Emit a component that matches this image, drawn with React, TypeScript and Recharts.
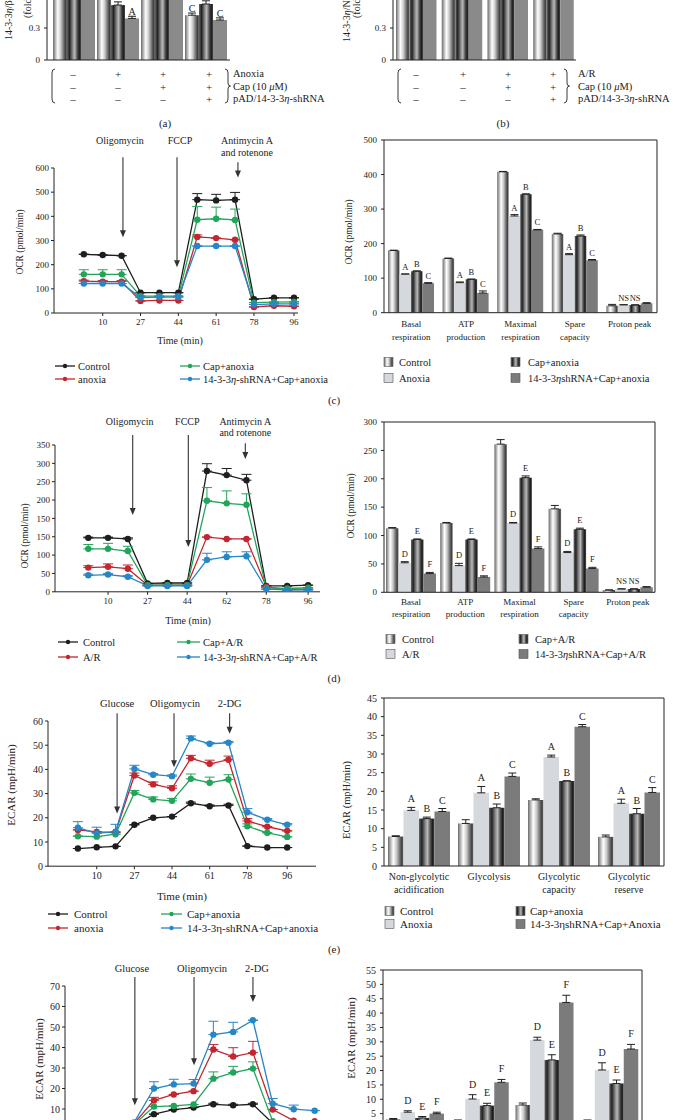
import React from 'react';
import { LineChart, Line, BarChart, Bar, XAxis, YAxis, ErrorBar, ReferenceLine, LabelList } from 'recharts';

const FONT = '"Liberation Serif", "DejaVu Serif", serif';
const INK = '#222222';
const ARROW = '#333333';

// ================= DATA =================
const times = [1.5, 10, 18.5, 27, 35.5, 44, 52.5, 61, 69.5, 78, 87, 96];
const timeTicks = [10, 27, 44, 61, 78, 96];
const timeTickLabelsC = ['10', '27', '44', '61', '78', '96'];
const timeTickLabelsD = ['10', '27', '44', '62', '78', '96'];

// (a) (b) blot quantification
const blotGroups = ['g1', 'g2', 'g3', 'g4'];
const blotTicks = [0, 0.3];
const aBand1 = [1.0, 1.0, 0.95, 0.42];
const aBand2 = [1.0, 0.515, 0.93, 0.525];
const aBand3 = [1.0, 0.39, 0.9, 0.375];
const aErr1 = [0, 0, 0, 0.02];
const aErr2 = [0, 0.03, 0, 0.03];
const aErr3 = [0, 0.02, 0, 0.02];
const aLet1 = ['', '', '', 'C'];
const aLet2 = ['', '', '', ''];
const aLet3 = ['', 'A', '', 'C'];
const bBand1 = [1.0, 0.98, 1.0, 0.97];
const bBand2 = [1.0, 0.96, 0.99, 0.95];
const bBand3 = [1.0, 0.94, 0.98, 0.93];
const bErr = [0, 0, 0, 0];
const bLet = ['', '', '', ''];
const signRows = [
  ['–', '+', '+', '+'],
  ['–', '–', '+', '+'],
  ['–', '–', '–', '+'],
];
const aRowLabels = ['Anoxia', 'Cap (10 μM)', 'pAD/14-3-3η-shRNA'];
const bRowLabels = ['A/R', 'Cap (10 μM)', 'pAD/14-3-3η-shRNA'];

// (c) OCR time course, anoxia
const cTicksY = [0, 100, 200, 300, 400, 500, 600];
const cCtrl = [243, 240, 237, 84, 84, 84, 469, 466, 469, 57, 63, 63];
const cCtrlErr = [0, 0, 0, 0, 0, 0, 25, 25, 30, 0, 0, 0];
const cAnox = [132, 130, 130, 50, 52, 52, 315, 310, 303, 25, 30, 28];
const cAnoxErr = [4, 4, 4, 0, 0, 0, 8, 0, 0, 0, 0, 0];
const cCap = [160, 160, 160, 70, 70, 70, 386, 390, 385, 43, 45, 46];
const cCapErr = [19, 19, 19, 0, 0, 0, 55, 48, 45, 0, 0, 0];
const cSh = [122, 122, 122, 64, 66, 66, 277, 277, 277, 35, 38, 38];
const cShErr = [0, 0, 0, 0, 0, 0, 0, 0, 0, 0, 0, 0];

// (c) OCR parameters
const ocrCats = ['Basal\nrespiration', 'ATP\nproduction', 'Maximal\nrespiration', 'Spare\ncapacity', 'Proton peak'];
const cBarTicks = [0, 100, 200, 300, 400, 500];
const cbCtrl = [180, 157, 408, 228, 20];
const cbAnox = [112, 87, 280, 168, 23];
const cbCap = [120, 97, 343, 222, 22];
const cbSh = [85, 57, 240, 152, 27];
const cbCtrlErr = [1, 1, 1, 2, 4];
const cbAnoxErr = [0, 2, 4, 3, 0];
const cbCapErr = [1, 0, 1, 3, 1];
const cbShErr = [2, 6, 1, 2, 2];
const cbLetAnox = ['A', 'A', 'A', 'A', 'NS'];
const cbLetCap = ['B', 'B', 'B', 'B', 'NS'];
const cbLetSh = ['C', 'C', 'C', 'C', ''];

// (d) OCR time course, A/R
const dTicksY = [0, 50, 100, 150, 200, 250, 300, 350, 400];
const dTickLabelsY = ['0', '50', '100', '150', '150', '200', '250', '300', '350'];
const dCtrl = [147, 147, 144, 23, 24, 24, 329, 318, 304, 16, 16, 18];
const dCtrlErr = [2, 2, 3, 0, 0, 0, 20, 18, 16, 0, 0, 0];
const dAR = [66, 68, 63, 18, 18, 18, 149, 144, 144, 14, 5, 7];
const dARErr = [5, 8, 10, 0, 0, 0, 0, 0, 0, 0, 0, 0];
const dCap = [117, 117, 111, 18, 18, 18, 248, 241, 237, 11, 9, 11];
const dCapErr = [12, 15, 13, 0, 0, 0, 36, 34, 30, 0, 0, 0];
const dSh = [45, 47, 41, 16, 16, 16, 87, 95, 97, 7, 5, 5];
const dShErr = [3, 3, 3, 0, 0, 0, 18, 14, 12, 0, 0, 0];

// (d) OCR parameters
const dBarTicks = [0, 50, 100, 150, 200, 250, 300];
const dbCtrl = [113, 122, 261, 147, 4];
const dbAR = [52, 47, 122, 70, 6];
const dbCap = [93, 93, 202, 111, 6];
const dbSh = [33, 27, 77, 42, 9];
const dbCtrlErr = [1, 1, 8, 6, 0];
const dbARErr = [2, 4, 1, 2, 0];
const dbCapErr = [1, 1, 3, 2, 0];
const dbShErr = [2, 2, 3, 2, 1];
const dbLetAR = ['D', 'D', 'D', 'D', 'NS'];
const dbLetCap = ['E', 'E', 'E', 'E', 'NS'];
const dbLetSh = ['F', 'F', 'F', 'F', ''];

// (e) ECAR time course, anoxia
const eTicksY = [0, 10, 20, 30, 40, 50, 60];
const eCtrl = [7.3, 7.8, 8.2, 17.1, 20, 20.5, 26, 24.8, 25.1, 8.3, 7.7, 7.7];
const eCtrlErr = [0, 0, 0, 0, 0, 0, 0.5, 0.5, 0.5, 0, 0, 0];
const eAnox = [15, 14.2, 14, 37.5, 33.8, 32.2, 44.6, 42.3, 44, 18.7, 16.3, 14.6];
const eAnoxErr = [0, 0, 0, 1, 1, 1, 1.2, 1.5, 1.5, 1, 0, 0];
const eCap = [12.4, 12.2, 13.2, 30.3, 27.6, 27, 36.1, 34.5, 35.8, 16.5, 13.8, 12.1];
const eCapErr = [0, 0, 0, 1, 1, 1, 2, 2.3, 2, 1, 0, 0];
const eSh = [15.9, 13.6, 14.3, 40.2, 37.8, 37.2, 52.8, 50.6, 51, 22.3, 19.2, 17.1];
const eShErr = [2.5, 2.5, 3, 1.5, 0.5, 0.5, 1, 0.5, 0.5, 1.5, 0.5, 0.5];

// (e) ECAR parameters
const ecarCats = ['Non-glycolytic\nacidification', 'Glycolysis', 'Glycolytic\ncapacity', 'Glycolytic\nreserve'];
const eBarTicks = [0, 5, 10, 15, 20, 25, 30, 35, 40, 45];
const ebCtrl = [7.9, 11.4, 17.7, 7.8];
const ebAnox = [14.9, 19.6, 29.2, 16.8];
const ebCap = [12.7, 15.6, 22.8, 14];
const ebSh = [14.6, 24, 37.3, 19.7];
const ebCtrlErr = [0.2, 1, 0.3, 0.5];
const ebAnoxErr = [0.8, 1.7, 0.5, 1.1];
const ebCapErr = [0.4, 1, 0, 1.4];
const ebShErr = [0.8, 0.9, 0.6, 1.3];
const ebLetAnox = ['A', 'A', 'A', 'A'];
const ebLetCap = ['B', 'B', 'B', 'B'];
const ebLetSh = ['C', 'C', 'C', 'C'];

// (f) ECAR time course, A/R (lower part of the figure is outside the picture)
const fTicksY = [10, 20, 30, 40, 50, 60, 70];
const fCtrl = [1.5, 1.5, 2, 7.5, 9.7, 10.7, 12.3, 11.8, 12.3, 3, 2.5, 2.5];
const fCtrlErr = [0, 0, 0, 0, 0, 0, 0.5, 0.5, 0.5, 0, 0, 0];
const fAR = [2.5, 2.5, 3, 14.2, 17.1, 18.7, 39, 35.6, 37.5, 9.7, 4.3, 4];
const fARErr = [0, 0, 0, 1.5, 0, 0, 2.5, 4.3, 5.5, 0, 0, 0];
const fCap = [2, 2, 2.5, 11.2, 11.5, 12.2, 24.8, 27.8, 29.7, 4, 3.5, 3];
const fCapErr = [0, 0, 0, 0, 0, 0, 3.3, 3, 3.3, 0, 0, 0];
const fSh = [3, 3, 3.5, 20, 22, 22.4, 46.3, 47.6, 53.3, 12.6, 9.9, 9.2];
const fShErr = [0, 0, 0, 3.3, 2.5, 2, 6.5, 4.7, 0, 2.5, 2, 0];

// (f) ECAR parameters
const fBarTicks = [5, 10, 15, 20, 25, 30, 35, 40, 45, 50, 55];
const fbCtrl = [3, 2.5, 8, 2.5];
const fbAR = [5.5, 10.1, 30.6, 20.2];
const fbCap = [3.5, 7.8, 23.7, 15.5];
const fbSh = [5, 15.9, 43.7, 27.5];
const fbCtrlErr = [0.3, 0.3, 0.7, 0.3];
const fbARErr = [0.5, 1.5, 1, 2.5];
const fbCapErr = [0.5, 0.8, 1.8, 1.2];
const fbShErr = [0.5, 1, 2.5, 1.6];
const fbLetAR = ['D', 'D', 'D', 'D'];
const fbLetCap = ['E', 'E', 'E', 'E'];
const fbLetSh = ['F', 'F', 'F', 'F'];

// legends
const legC = ['Control', 'anoxia', 'Cap+anoxia', '14-3-3η-shRNA+Cap+anoxia'];
const barLegC = ['Control', 'Anoxia', 'Cap+anoxia', '14-3-3ηshRNA+Cap+anoxia'];
const legD = ['Control', 'A/R', 'Cap+A/R', '14-3-3η-shRNA+Cap+A/R'];
const barLegD = ['Control', 'A/R', 'Cap+A/R', '14-3-3ηshRNA+Cap+A/R'];
const legE = ['Control', 'anoxia', 'Cap+anoxia', '14-3-3η-shRNA+Cap+anoxia'];
const barLegE = ['Control', 'Anoxia', 'Cap+anoxia', '14-3-3ηshRNA+Cap+Anoxia'];

// ================= STYLE =================
const COL = { ctrl: '#1e1e1e', red: '#c3262f', green: '#22a55b', blue: '#2686c6' };
const FILL = { ctrl: 'url(#gLight)', anox: '#d5d8dc', cap: 'url(#gDark)', sh: '#7b7b7b', flat: '#8a8a8a' };

type Box = { x0: number; x1: number; y0: number; y1: number };
function place(box: Box, yw: number, mt: number, xh: number, mr: number) {
  return {
    left: box.x0 - yw,
    top: box.y0 - mt,
    width: box.x1 - box.x0 + yw + mr,
    height: box.y1 - box.y0 + mt + xh,
  };
}

function Defs() {
  return (
    <svg width={0} height={0} style={{ position: 'absolute' }}>
      <defs>
        <linearGradient id="gLight" x1="0" y1="0" x2="1" y2="0">
          <stop offset="0" stopColor="#6a6a6a" />
          <stop offset="0.16" stopColor="#b2b2b2" />
          <stop offset="0.34" stopColor="#ffffff" />
          <stop offset="0.55" stopColor="#cacaca" />
          <stop offset="0.76" stopColor="#727272" />
          <stop offset="0.9" stopColor="#3e3e3e" />
          <stop offset="1" stopColor="#777777" />
        </linearGradient>
        <linearGradient id="gDark" x1="0" y1="0" x2="1" y2="0">
          <stop offset="0" stopColor="#666666" />
          <stop offset="0.18" stopColor="#222222" />
          <stop offset="0.42" stopColor="#8e8e8e" />
          <stop offset="0.55" stopColor="#b8b8b8" />
          <stop offset="0.74" stopColor="#4e4e4e" />
          <stop offset="0.88" stopColor="#1c1c1c" />
          <stop offset="1" stopColor="#4a4a4a" />
        </linearGradient>
      </defs>
    </svg>
  );
}

function ArrowShape(p: any) {
  const { x1, y1, x2, y2, a, fs } = p;
  if (x1 == null || y1 == null) return null;
  const top = Math.min(y1, y2);
  const bot = Math.max(y1, y2);
  return (
    <g>
      <line x1={x1} y1={top} x2={x2} y2={bot - 6} stroke={ARROW} strokeWidth={1.1} />
      <polygon points={`${x1 - 3},${bot - 7} ${x1 + 3},${bot - 7} ${x1},${bot}`} fill={ARROW} />
      {a.lines.map((l: string, j: number) => (
        <text key={j} x={x1 + a.dx} y={top + a.baselines[j]} textAnchor="middle" fontFamily={FONT} fontSize={fs} fill={INK}>
          {l}
        </text>
      ))}
    </g>
  );
}

type Series = { color: string; values: number[]; errors: number[] };
type Arrow = { t: number; top: number; end: number; lines: string[]; baselines: number[]; dx: number };

function TimeCourse(props: {
  box: Box; xDomain: [number, number]; yDomain: [number, number]; yTicks: number[]; yTickLabels?: string[];
  xTickLabels: string[]; series: Series[]; arrows: Arrow[]; fs: number; afs: number; mt: number; hideXTicks?: boolean;
}) {
  const { box, xDomain, yDomain, yTicks, yTickLabels, xTickLabels, series, arrows, fs, afs, mt, hideXTicks } = props;
  const yw = 40, xh = 30, mr = 4;
  const p = place(box, yw, mt, xh, mr);
  const rows = times.map((t, i) => {
    const r: Record<string, any> = { t };
    series.forEach((s, k) => {
      r['v' + k] = s.values[i];
      r['e' + k] = [0, s.errors[i]];
    });
    return r;
  });
  const tickStyle = { fontFamily: FONT, fontSize: fs, fill: INK };
  return (
    <div style={{ position: 'absolute', left: p.left, top: p.top }}>
      <LineChart width={p.width} height={p.height} data={rows} margin={{ top: mt, right: mr, left: 0, bottom: 0 }}>
        <XAxis
          type="number" dataKey="t" domain={xDomain} allowDataOverflow ticks={timeTicks} interval={0}
          tickFormatter={(v: number) => xTickLabels[timeTicks.indexOf(v)]}
          height={xh} tickSize={3} tickMargin={3} tick={hideXTicks ? false : tickStyle}
          axisLine={{ stroke: INK }} tickLine={hideXTicks ? false : { stroke: INK }}
        />
        <YAxis
          type="number" domain={yDomain} allowDataOverflow ticks={yTicks} interval={0}
          tickFormatter={(v: number) => (yTickLabels ? yTickLabels[yTicks.indexOf(v)] : String(v))}
          width={yw} tickSize={3} tickMargin={2} tick={tickStyle}
          axisLine={{ stroke: INK }} tickLine={{ stroke: INK }}
        />
        {arrows.map((a, i) => (
          <ReferenceLine
            key={'ar' + i}
            segment={[{ x: a.t, y: a.top }, { x: a.t, y: a.end }]}
            ifOverflow="visible"
            shape={(sp: any) => <ArrowShape {...sp} a={a} fs={afs} />}
          />
        ))}
        {series.map((s, k) => (
          <Line
            key={'l' + k} type="linear" dataKey={'v' + k} stroke={s.color} strokeWidth={1.3}
            dot={{ r: 3.2, fill: s.color, stroke: s.color, strokeWidth: 0 }} activeDot={false}
            isAnimationActive={false}
          >
            <ErrorBar dataKey={'e' + k} direction="y" width={5} stroke={s.color} strokeWidth={1} />
          </Line>
        ))}
      </LineChart>
    </div>
  );
}

function CatTick(p: any) {
  const { x, y, payload, fs, base, lh } = p;
  const lines = String(payload && payload.value).split('\n');
  return (
    <text textAnchor="middle" fontFamily={FONT} fontSize={fs} fill={INK}>
      {lines.map((l, i) => (
        <tspan key={i} x={x} y={y + base + i * lh}>{l}</tspan>
      ))}
    </text>
  );
}

const makeLetter = (errs: number[], ppu: number, gap: number, fs: number) => (lp: any) => {
  const vb = lp.viewBox || {};
  const x = vb.x ?? lp.x;
  const y = vb.y ?? lp.y;
  const w = vb.width ?? lp.width;
  const h = vb.height ?? lp.height ?? 0;
  const v = lp.value;
  const idx = lp.index;
  if (!v || x == null || y == null) return null;
  const top = h < 0 ? y + h : y;
  const by = top - gap - (errs[idx] || 0) * ppu;
  return (
    <text x={x + w / 2} y={by} textAnchor="middle" fontFamily={FONT} fontSize={fs} fill={INK}>{v}</text>
  );
};

type BarSeries = { fill: string; stroke?: string; values: number[]; errors: number[]; letters: string[] };

function GroupBars(props: {
  box: Box; cats: string[]; series: BarSeries[]; yDomain: [number, number]; yTicks: number[]; fs: number;
  lfs: number; barSize: number; framed: boolean; letterGap: number; catBase?: number; catLineH?: number;
  showCats: boolean; padL?: number; padR?: number;
}) {
  const { box, cats, series, yDomain, yTicks, fs, lfs, barSize, framed, letterGap, catBase = 14, catLineH = 13, showCats, padL = 0, padR = 0 } = props;
  const yw = 40, mt = 6, mr = 4, xh = 36;
  const p = place(box, yw, mt, xh, mr);
  const ppu = (box.y1 - box.y0) / (yDomain[1] - yDomain[0]);
  const rows = cats.map((c, i) => {
    const r: Record<string, any> = { cat: c };
    series.forEach((s, k) => {
      r['v' + k] = s.values[i];
      r['e' + k] = [0, s.errors[i]];
      r['l' + k] = s.letters[i];
    });
    return r;
  });
  const tickStyle = { fontFamily: FONT, fontSize: fs, fill: INK };
  return (
    <div style={{ position: 'absolute', left: p.left, top: p.top }}>
      <BarChart width={p.width} height={p.height} data={rows} margin={{ top: mt, right: mr, left: 0, bottom: 0 }} barGap={0} barSize={barSize}>
        <XAxis
          dataKey="cat" type="category" interval={0} height={xh} tickLine={false} tickSize={0} tickMargin={0}
          padding={{ left: padL, right: padR }} axisLine={{ stroke: INK }}
          tick={showCats ? (tp: any) => <CatTick {...tp} fs={fs} base={catBase} lh={catLineH} /> : false}
        />
        <YAxis
          type="number" domain={yDomain} allowDataOverflow ticks={yTicks} interval={0}
          width={yw} tickSize={3} tickMargin={4} tick={tickStyle}
          axisLine={{ stroke: INK }} tickLine={{ stroke: INK }}
        />
        {framed && <ReferenceLine y={yDomain[1]} stroke={INK} strokeWidth={1} ifOverflow="visible" />}
        {framed && <ReferenceLine x={cats[cats.length - 1]} position="end" stroke={INK} strokeWidth={1} ifOverflow="visible" />}
        {series.map((s, k) => (
          <Bar key={'b' + k} dataKey={'v' + k} fill={s.fill} stroke={s.stroke || 'none'} strokeWidth={0.4} barSize={barSize} isAnimationActive={false}>
            <ErrorBar dataKey={'e' + k} direction="y" width={4} stroke="#222" strokeWidth={1} />
            <LabelList dataKey={'l' + k} content={makeLetter(s.errors, ppu, letterGap, lfs)} />
          </Bar>
        ))}
      </BarChart>
    </div>
  );
}

// ================= OVERLAY TEXT =================
function Rich(p: { x: number; y: number; text: string; fs: number; anchor?: string; italic?: boolean }) {
  const { x, y, text, fs, anchor = 'start', italic = true } = p;
  const parts = text.split(/([μη])/);
  return (
    <text x={x} y={y} fontFamily={FONT} fontSize={fs} fill={INK} textAnchor={anchor as any} dominantBaseline="central">
      {parts.map((s, i) =>
        s === '' ? null : /[μη]/.test(s) && italic ? <tspan key={i} fontStyle="italic">{s}</tspan> : <tspan key={i}>{s}</tspan>
      )}
    </text>
  );
}

function RotLabel(p: { cx: number; cy: number; text: string; fs: number; anchor?: string }) {
  const { cx, cy, text, fs, anchor = 'middle' } = p;
  const parts = text.split(/([η])/);
  return (
    <text x={cx} y={cy} transform={`rotate(-90 ${cx} ${cy})`} textAnchor={anchor as any} dominantBaseline="central" fontFamily={FONT} fontSize={fs} fill={INK}>
      {parts.map((s, i) => (s === '' ? null : s === 'η' ? <tspan key={i} fontStyle="italic">{s}</tspan> : <tspan key={i}>{s}</tspan>))}
    </text>
  );
}

function LegLine(p: { x1: number; x2: number; y: number; color: string; tx: number; label: string; fs: number; italic?: boolean }) {
  return (
    <g>
      <line x1={p.x1} x2={p.x2} y1={p.y} y2={p.y} stroke={p.color} strokeWidth={1.3} />
      <circle cx={(p.x1 + p.x2) / 2} cy={p.y} r={2.2} fill={p.color} />
      <Rich x={p.tx} y={p.y} text={p.label} fs={p.fs} italic={p.italic} />
    </g>
  );
}

function LegBar(p: { x: number; y: number; fill: string; tx: number; label: string; fs: number; italic?: boolean }) {
  return (
    <g>
      <rect x={p.x} y={p.y - 4.5} width={9} height={9} fill={p.fill} stroke="#555" strokeWidth={0.6} />
      <Rich x={p.tx} y={p.y} text={p.label} fs={p.fs} italic={p.italic} />
    </g>
  );
}

function SignTable(p: { cols: number[]; rowsY: number[]; labelX: number; labels: string[]; bl: number; br: number }) {
  const { cols, rowsY, labelX, labels, bl, br } = p;
  const t = rowsY[0] - 5, b = rowsY[2] + 4, m = (t + b) / 2;
  return (
    <g>
      <path d={`M ${bl + 3} ${t} Q ${bl} ${t} ${bl} ${t + 4} L ${bl} ${b - 4} Q ${bl} ${b} ${bl + 3} ${b}`} fill="none" stroke={INK} strokeWidth={0.9} />
      <path d={`M ${br - 3} ${t} Q ${br} ${t} ${br} ${t + 4} L ${br} ${m - 3} Q ${br} ${m} ${br + 2.5} ${m} Q ${br} ${m} ${br} ${m + 3} L ${br} ${b - 4} Q ${br} ${b} ${br - 3} ${b}`} fill="none" stroke={INK} strokeWidth={0.9} />
      {signRows.map((r, i) =>
        r.map((s, j) => (
          <text key={i + '-' + j} x={cols[j]} y={rowsY[i]} textAnchor="middle" dominantBaseline="central" fontFamily={FONT} fontSize={11} fill={INK}>{s}</text>
        ))
      )}
      {labels.map((l, i) => (
        <Rich key={'lab' + i} x={labelX} y={rowsY[i] - 1} text={l} fs={10.5} />
      ))}
    </g>
  );
}

function Overlay() {
  const plain = (x: number, y: number, s: string, fs: number) => (
    <text x={x} y={y} textAnchor="middle" dominantBaseline="central" fontFamily={FONT} fontSize={fs} fill={INK}>{s}</text>
  );
  return (
    <svg width={673} height={1120} style={{ position: 'absolute', left: 0, top: 0, pointerEvents: 'none' }}>
      {/* (a) (b) */}
      <RotLabel cx={7.5} cy={40} text="14-3-3η/β-actin" fs={10} anchor="start" />
      <RotLabel cx={27} cy={18} text="(fold)" fs={10} anchor="start" />
      <RotLabel cx={346} cy={42} text="14-3-3η/Nrf2" fs={10} anchor="start" />
      <RotLabel cx={356} cy={18} text="(fold)" fs={10} anchor="start" />
      <SignTable cols={[73, 118, 163, 209]} rowsY={[74, 87, 99]} labelX={233} labels={aRowLabels} bl={52} br={228} />
      <SignTable cols={[416, 463, 508, 553]} rowsY={[74, 87, 99]} labelX={578} labels={bRowLabels} bl={398} br={567} />
      {plain(165, 123, '(a)', 11)}
      {plain(503, 123, '(b)', 11)}

      {/* (c) */}
      <RotLabel cx={20} cy={242} text="OCR (pmol/min)" fs={9.5} />
      <RotLabel cx={349} cy={232} text="OCR (pmol/min)" fs={9.5} />
      {plain(180, 340, 'Time (min)', 10)}
      <LegLine x1={55} x2={75} y={366} color={COL.ctrl} tx={78} label={legC[0]} fs={10.5} />
      <LegLine x1={55} x2={75} y={379} color={COL.red} tx={78} label={legC[1]} fs={10.5} />
      <LegLine x1={180} x2={200} y={366} color={COL.green} tx={203} label={legC[2]} fs={10.5} />
      <LegLine x1={180} x2={200} y={379} color={COL.blue} tx={203} label={legC[3]} fs={10.5} />
      <LegBar x={384} y={362} fill={FILL.ctrl} tx={399} label={barLegC[0]} fs={10.5} />
      <LegBar x={384} y={378} fill={FILL.anox} tx={399} label={barLegC[1]} fs={10.5} />
      <LegBar x={511} y={362} fill={FILL.cap} tx={528} label={barLegC[2]} fs={10.5} />
      <LegBar x={511} y={378} fill={FILL.sh} tx={528} label={barLegC[3]} fs={10.5} />
      {plain(334, 400, '(c)', 11)}

      {/* (d) */}
      <RotLabel cx={25} cy={536} text="OCR (pmol/min)" fs={9.5} />
      <RotLabel cx={351} cy={506} text="OCR (pmol/min)" fs={9.5} />
      {plain(188, 620, 'Time (min)', 10)}
      <LegLine x1={58} x2={78} y={642} color={COL.ctrl} tx={83} label={legD[0]} fs={10.5} />
      <LegLine x1={58} x2={78} y={657} color={COL.red} tx={83} label={legD[1]} fs={10.5} />
      <LegLine x1={177} x2={200} y={642} color={COL.green} tx={203} label={legD[2]} fs={10.5} />
      <LegLine x1={177} x2={200} y={657} color={COL.blue} tx={203} label={legD[3]} fs={10.5} />
      <LegBar x={386} y={639} fill={FILL.ctrl} tx={402} label={barLegD[0]} fs={10.5} />
      <LegBar x={386} y={654} fill={FILL.anox} tx={402} label={barLegD[1]} fs={10.5} />
      <LegBar x={519} y={639} fill={FILL.cap} tx={535} label={barLegD[2]} fs={10.5} />
      <LegBar x={519} y={654} fill={FILL.sh} tx={535} label={barLegD[3]} fs={10.5} />
      {plain(334, 678, '(d)', 11)}

      {/* (e) */}
      <RotLabel cx={11} cy={785} text="ECAR (mpH/min)" fs={11} />
      <RotLabel cx={346} cy={800} text="ECAR (mpH/min)" fs={10.5} />
      {plain(182, 896, 'Time (min)', 11)}
      <LegLine x1={48} x2={68} y={914} color={COL.ctrl} tx={74} label={legE[0]} fs={11} italic={false} />
      <LegLine x1={48} x2={68} y={928} color={COL.red} tx={74} label={legE[1]} fs={11} italic={false} />
      <LegLine x1={161} x2={182} y={914} color={COL.green} tx={187} label={legE[2]} fs={11} italic={false} />
      <LegLine x1={161} x2={182} y={928} color={COL.blue} tx={187} label={legE[3]} fs={11} italic={false} />
      <LegBar x={385} y={911} fill={FILL.ctrl} tx={400} label={barLegE[0]} fs={11} italic={false} />
      <LegBar x={385} y={924} fill={FILL.anox} tx={400} label={barLegE[1]} fs={11} italic={false} />
      <LegBar x={516} y={911} fill={FILL.cap} tx={530} label={barLegE[2]} fs={11} italic={false} />
      <LegBar x={516} y={924} fill={FILL.sh} tx={530} label={barLegE[3]} fs={11} italic={false} />
      {plain(334, 949, '(e)', 11)}

      {/* (f) */}
      <RotLabel cx={39} cy={1059} text="ECAR (mpH/min)" fs={11} />
      <RotLabel cx={351} cy={1038} text="ECAR (mpH/min)" fs={11} />
    </svg>
  );
}

// ================= CHARTS =================
const arrowsC: Arrow[] = [
  { t: 19.1, top: 644, end: 313, lines: ['Oligomycin'], baselines: [-13.5], dx: -3 },
  { t: 43.4, top: 644, end: 189, lines: ['FCCP'], baselines: [-13.5], dx: 3 },
  { t: 70.8, top: 624, end: 561, lines: ['Antimycin A', 'and rotenone'], baselines: [-18.2, -6.2], dx: 9 },
];
const arrowsD: Arrow[] = [
  { t: 20.6, top: 427, end: 209, lines: ['Oligomycin'], baselines: [-10.5], dx: -3 },
  { t: 44.5, top: 427, end: 122, lines: ['FCCP'], baselines: [-10.5], dx: -1 },
  { t: 69, top: 405, end: 362, lines: ['Antimycin A', 'and rotenone'], baselines: [-18.5, -7.5], dx: 0 },
];
const arrowsE: Arrow[] = [
  { t: 19.2, top: 63.2, end: 21.8, lines: ['Glucose'], baselines: [-6.3], dx: 0 },
  { t: 44.9, top: 63.2, end: 40.9, lines: ['Oligomycin'], baselines: [-6.3], dx: 1 },
  { t: 70, top: 63.2, end: 54.7, lines: ['2-DG'], baselines: [-6.3], dx: 0 },
];
const arrowsF: Arrow[] = [
  { t: 18.8, top: 74.4, end: 11.8, lines: ['Glucose'], baselines: [-5.2], dx: -3 },
  { t: 44.2, top: 74.4, end: 31.3, lines: ['Oligomycin'], baselines: [-5.2], dx: 8 },
  { t: 69.5, top: 74.4, end: 62.2, lines: ['2-DG'], baselines: [-5.2], dx: 4 },
];

export default function App() {
  return (
    <div style={{ position: 'absolute', left: 0, top: 0, width: 673, height: 1120, overflow: 'hidden', background: '#ffffff' }}>
      <Defs />
      {/* (a) */}
      <GroupBars
        box={{ x0: 47, x1: 230, y0: -68, y1: 60 }} cats={blotGroups} yDomain={[0, 1.2]} yTicks={blotTicks}
        fs={9} lfs={10} barSize={14} framed={false} letterGap={1} showCats={false} padL={5} padR={2}
        series={[
          { fill: FILL.ctrl, values: aBand1, errors: aErr1, letters: aLet1 },
          { fill: FILL.cap, values: aBand2, errors: aErr2, letters: aLet2 },
          { fill: FILL.flat, values: aBand3, errors: aErr3, letters: aLet3 },
        ]}
      />
      {/* (b) */}
      <GroupBars
        box={{ x0: 393, x1: 576, y0: -68, y1: 60 }} cats={blotGroups} yDomain={[0, 1.2]} yTicks={blotTicks}
        fs={9} lfs={10} barSize={13.5} framed={false} letterGap={1} showCats={false}
        series={[
          { fill: FILL.ctrl, values: bBand1, errors: bErr, letters: bLet },
          { fill: FILL.cap, values: bBand2, errors: bErr, letters: bLet },
          { fill: FILL.flat, values: bBand3, errors: bErr, letters: bLet },
        ]}
      />
      {/* (c) */}
      <TimeCourse
        box={{ x0: 54, x1: 298, y0: 167.7, y1: 312.7 }} xDomain={[-11.9, 97.8]} yDomain={[0, 600]} yTicks={cTicksY}
        xTickLabels={timeTickLabelsC} fs={9} afs={10} mt={35} arrows={arrowsC}
        series={[
          { color: COL.ctrl, values: cCtrl, errors: cCtrlErr },
          { color: COL.red, values: cAnox, errors: cAnoxErr },
          { color: COL.green, values: cCap, errors: cCapErr },
          { color: COL.blue, values: cSh, errors: cShErr },
        ]}
      />
      <GroupBars
        box={{ x0: 384, x1: 657, y0: 140, y1: 312.7 }} cats={ocrCats} yDomain={[0, 500]} yTicks={cBarTicks}
        fs={9} lfs={8.5} barSize={11.5} framed letterGap={4} showCats catBase={14.3} catLineH={13}
        series={[
          { fill: FILL.ctrl, values: cbCtrl, errors: cbCtrlErr, letters: ['', '', '', '', ''] },
          { fill: FILL.anox, values: cbAnox, errors: cbAnoxErr, letters: cbLetAnox },
          { fill: FILL.cap, values: cbCap, errors: cbCapErr, letters: cbLetCap },
          { fill: FILL.sh, values: cbSh, errors: cbShErr, letters: cbLetSh },
        ]}
      />
      {/* (d) */}
      <TimeCourse
        box={{ x0: 55, x1: 320, y0: 444.9, y1: 591.7 }} xDomain={[-12.8, 101.1]} yDomain={[0, 400]} yTicks={dTicksY}
        yTickLabels={dTickLabelsY} xTickLabels={timeTickLabelsD} fs={9} afs={10} mt={32} arrows={arrowsD}
        series={[
          { color: COL.ctrl, values: dCtrl, errors: dCtrlErr },
          { color: COL.red, values: dAR, errors: dARErr },
          { color: COL.green, values: dCap, errors: dCapErr },
          { color: COL.blue, values: dSh, errors: dShErr },
        ]}
      />
      <GroupBars
        box={{ x0: 384, x1: 655, y0: 421.7, y1: 592 }} cats={ocrCats} yDomain={[0, 300]} yTicks={dBarTicks}
        fs={9} lfs={8.5} barSize={12.5} framed letterGap={5} showCats catBase={13} catLineH={12}
        series={[
          { fill: FILL.ctrl, values: dbCtrl, errors: dbCtrlErr, letters: ['', '', '', '', ''] },
          { fill: FILL.anox, values: dbAR, errors: dbARErr, letters: dbLetAR },
          { fill: FILL.cap, values: dbCap, errors: dbCapErr, letters: dbLetCap },
          { fill: FILL.sh, values: dbSh, errors: dbShErr, letters: dbLetSh },
        ]}
      />
      {/* (e) */}
      <TimeCourse
        box={{ x0: 48, x1: 316, y0: 720.5, y1: 865.7 }} xDomain={[-12, 109]} yDomain={[0, 60]} yTicks={eTicksY}
        xTickLabels={timeTickLabelsC} fs={10} afs={10.5} mt={26} arrows={arrowsE}
        series={[
          { color: COL.ctrl, values: eCtrl, errors: eCtrlErr },
          { color: COL.red, values: eAnox, errors: eAnoxErr },
          { color: COL.green, values: eCap, errors: eCapErr },
          { color: COL.blue, values: eSh, errors: eShErr },
        ]}
      />
      <GroupBars
        box={{ x0: 384, x1: 664, y0: 697.7, y1: 865.7 }} cats={ecarCats} yDomain={[0, 45]} yTicks={eBarTicks}
        fs={10} lfs={10} barSize={15.5} framed letterGap={5} showCats catBase={13.8} catLineH={13}
        series={[
          { fill: FILL.ctrl, values: ebCtrl, errors: ebCtrlErr, letters: ['', '', '', ''] },
          { fill: FILL.anox, values: ebAnox, errors: ebAnoxErr, letters: ebLetAnox },
          { fill: FILL.cap, values: ebCap, errors: ebCapErr, letters: ebLetCap },
          { fill: FILL.sh, values: ebSh, errors: ebShErr, letters: ebLetSh },
        ]}
      />
      {/* (f) */}
      <TimeCourse
        box={{ x0: 65, x1: 334, y0: 985.7, y1: 1129.2 }} xDomain={[-11.2, 104.3]} yDomain={[0, 70]} yTicks={fTicksY}
        xTickLabels={timeTickLabelsC} fs={10} afs={10.5} mt={24} arrows={arrowsF} hideXTicks
        series={[
          { color: COL.ctrl, values: fCtrl, errors: fCtrlErr },
          { color: COL.red, values: fAR, errors: fARErr },
          { color: COL.green, values: fCap, errors: fCapErr },
          { color: COL.blue, values: fSh, errors: fShErr },
        ]}
      />
      <GroupBars
        box={{ x0: 383, x1: 642, y0: 970, y1: 1128 }} cats={ecarCats} yDomain={[0, 55]} yTicks={fBarTicks}
        fs={10} lfs={10} barSize={14.5} framed letterGap={7} showCats={false}
        series={[
          { fill: FILL.ctrl, values: fbCtrl, errors: fbCtrlErr, letters: ['', '', '', ''] },
          { fill: FILL.anox, values: fbAR, errors: fbARErr, letters: fbLetAR },
          { fill: FILL.cap, values: fbCap, errors: fbCapErr, letters: fbLetCap },
          { fill: FILL.sh, values: fbSh, errors: fbShErr, letters: fbLetSh },
        ]}
      />
      <Overlay />
    </div>
  );
}
